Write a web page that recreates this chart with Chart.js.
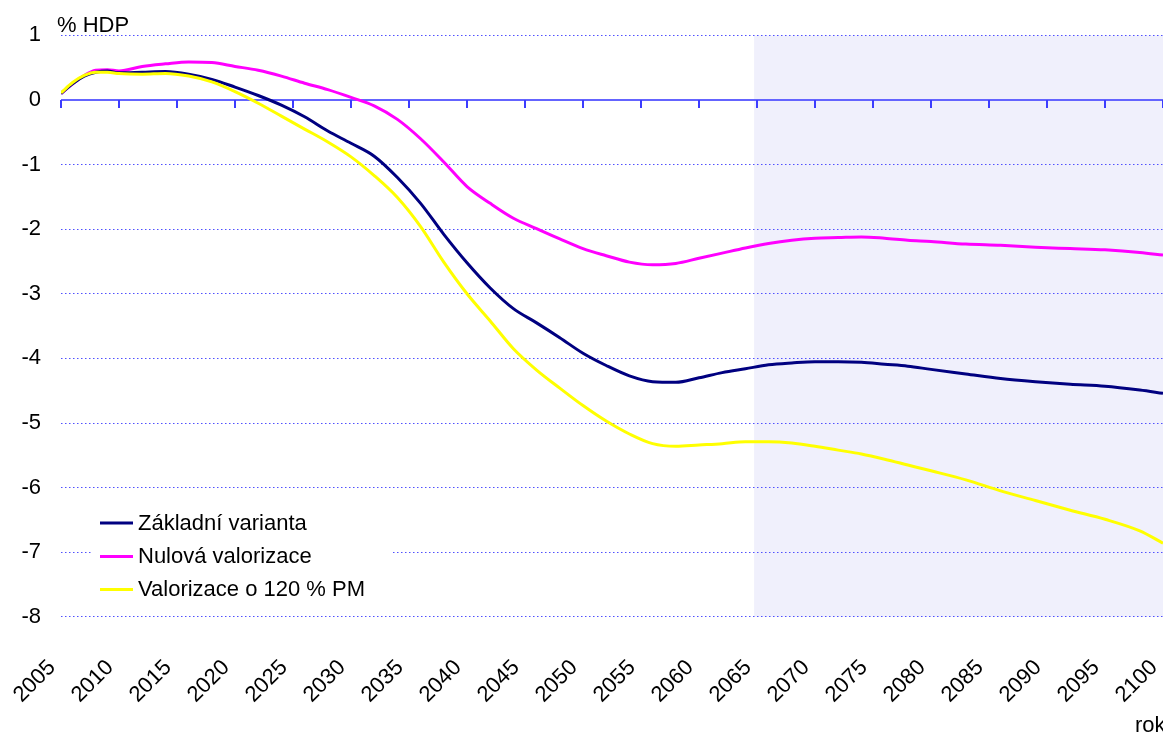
<!DOCTYPE html>
<html>
<head>
<meta charset="utf-8">
<script src="https://cdn.jsdelivr.net/npm/chart.js@4/dist/chart.umd.min.js"></script>
<style>
html,body{margin:0;padding:0;background:#ffffff;overflow:hidden}
#wrap{width:1163px;height:733px;position:relative}
</style>
</head>
<body>
<div id="wrap"><canvas id="c"></canvas></div>
<script>
// ---- data ----
const years = [2005, 2006, 2007, 2008, 2009, 2010,
  2012, 2014, 2016, 2018, 2020, 2022, 2024, 2026, 2028, 2030,
  2032, 2034, 2036, 2038, 2040, 2042, 2044, 2046, 2048, 2050,
  2052, 2054, 2056, 2058, 2060, 2062, 2064, 2066, 2068, 2070,
  2072, 2074, 2076, 2078, 2080,
  2083, 2086, 2089, 2092, 2095, 2098, 2100];

const zakladniVarianta = [0.10, 0.25, 0.37, 0.43, 0.45, 0.42,
  0.43, 0.44, 0.40, 0.32, 0.20, 0.07, -0.08, -0.26, -0.48, -0.67,
  -0.87, -1.20, -1.60, -2.08, -2.52, -2.91, -3.23, -3.45, -3.68, -3.92,
  -4.11, -4.27, -4.36, -4.37, -4.30, -4.22, -4.16, -4.10, -4.07, -4.05,
  -4.05, -4.06, -4.09, -4.12, -4.17,
  -4.24, -4.31, -4.36, -4.40, -4.43, -4.49, -4.54];

const nulovaValorizace = [0.10, 0.25, 0.38, 0.46, 0.47, 0.45,
  0.52, 0.56, 0.59, 0.58, 0.52, 0.46, 0.37, 0.26, 0.16, 0.04,
  -0.09, -0.30, -0.60, -0.96, -1.34, -1.60, -1.83, -1.99, -2.15, -2.30,
  -2.41, -2.51, -2.55, -2.53, -2.45, -2.37, -2.29, -2.22, -2.17, -2.14,
  -2.13, -2.12, -2.14, -2.17, -2.19,
  -2.23, -2.25, -2.28, -2.30, -2.32, -2.36, -2.40];

const valorizace120 = [0.11, 0.27, 0.38, 0.43, 0.43, 0.41,
  0.40, 0.41, 0.37, 0.28, 0.13, -0.05, -0.25, -0.45, -0.65, -0.88,
  -1.17, -1.51, -1.96, -2.51, -3.00, -3.42, -3.85, -4.18, -4.46, -4.73,
  -4.97, -5.17, -5.32, -5.36, -5.34, -5.32, -5.29, -5.29, -5.31, -5.36,
  -5.42, -5.48, -5.56, -5.65, -5.74,
  -5.88, -6.05, -6.20, -6.35, -6.49, -6.67, -6.86];

const seriesNames = ['Základní varianta', 'Nulová valorizace', 'Valorizace o 120 % PM'];
const seriesColors = ['#000080', '#ff00ff', '#ffff00'];
const xMin = 2005, xMax = 2100, xStep = 5;
const yMin = -8, yMax = 1, yStep = 1;
const projectionStart = 2064.75;
const yTitle = '% HDP';
const xTitle = 'rok';

// ---- chart ----
const FONT = "'Liberation Sans', Arial, sans-serif";
const FS = 22;

const toPoints = arr => years.map((x, i) => ({x: x, y: arr[i]}));

const shadePlugin = {
  id: 'shade',
  beforeDraw(chart) {
    const {ctx, chartArea: a, scales: {x}} = chart;
    const x0 = x.getPixelForValue(projectionStart);
    ctx.save();
    ctx.fillStyle = '#f0f0fc';
    ctx.fillRect(x0, a.top, a.right - x0, a.bottom - a.top);
    ctx.restore();
  }
};

const zeroLinePlugin = {
  id: 'zeroLine',
  beforeDatasetsDraw(chart) {
    const {ctx, chartArea: a, scales: {x, y}} = chart;
    const y0 = Math.round(y.getPixelForValue(0));
    ctx.save();
    ctx.strokeStyle = '#6464ff';
    ctx.lineWidth = 2;
    ctx.beginPath();
    ctx.moveTo(a.left, y0);
    ctx.lineTo(a.right, y0);
    ctx.stroke();
    ctx.strokeStyle = '#3c3cff';
    ctx.lineWidth = 2;
    for (let v = xMin; v <= xMax; v += xStep) {
      const px = Math.round(x.getPixelForValue(v));
      ctx.beginPath();
      ctx.moveTo(px, y0);
      ctx.lineTo(px, y0 + 8);
      ctx.stroke();
    }
    ctx.restore();
  }
};

const textPlugin = {
  id: 'texts',
  afterDraw(chart) {
    const {ctx, chartArea: a} = chart;
    ctx.save();
    // legend box inside plot area
    const lx = a.left + 31, ly = a.top + 462, lw = 300, lh = 111;
    ctx.fillStyle = '#ffffff';
    ctx.fillRect(lx, ly, lw, lh);
    ctx.font = FS + 'px ' + FONT;
    ctx.textBaseline = 'middle';
    ctx.textAlign = 'left';
    const rowY = [a.top + 487.5, a.top + 521, a.top + 554];
    chart.data.datasets.forEach((ds, i) => {
      ctx.strokeStyle = ds.borderColor;
      ctx.lineWidth = 3;
      ctx.beginPath();
      ctx.moveTo(lx + 8, rowY[i]);
      ctx.lineTo(lx + 41, rowY[i]);
      ctx.stroke();
      ctx.fillStyle = '#000000';
      ctx.fillText(ds.label, lx + 46, rowY[i] + 1);
    });
    // axis titles
    ctx.textBaseline = 'alphabetic';
    ctx.fillText(yTitle, 57, 32);
    ctx.fillText(xTitle, 1135, 732);
    ctx.restore();
  }
};

new Chart(document.getElementById('c'), {
  type: 'line',
  data: {
    datasets: [
      {label: seriesNames[0], data: toPoints(zakladniVarianta), borderColor: seriesColors[0], order: 1},
      {label: seriesNames[1], data: toPoints(nulovaValorizace), borderColor: seriesColors[1], order: 2},
      {label: seriesNames[2], data: toPoints(valorizace120), borderColor: seriesColors[2], order: 0}
    ].map(d => Object.assign(d, {
      borderWidth: 3, pointRadius: 0, fill: false,
      cubicInterpolationMode: 'monotone', backgroundColor: d.borderColor
    }))
  },
  options: {
    responsive: true,
    maintainAspectRatio: false,
    animation: false,
    devicePixelRatio: 1,
    layout: {padding: {top: 35.4, left: 0, right: 0, bottom: 0}},
    plugins: {legend: {display: false}, tooltip: {enabled: false}},
    scales: {
      x: {
        type: 'linear', min: xMin, max: xMax,
        grid: {display: false, drawTicks: false},
        border: {display: false},
        ticks: {
          stepSize: xStep, autoSkip: false, maxRotation: 45, minRotation: 45,
          padding: 38, labelOffset: -9, color: '#000', font: {family: FONT, size: FS},
          callback: v => String(v)
        },
        afterFit: s => { s.paddingRight = 0; s.paddingLeft = 0; s.height = 116.2; }
      },
      y: {
        min: yMin, max: yMax,
        grid: {
          drawTicks: false, lineWidth: 1,
          color: c => (c.tick && c.tick.value === 0) ? 'rgba(0,0,0,0)' : '#5050ff'
        },
        border: {display: false, dash: [1.5, 2.5]},
        ticks: {
          stepSize: yStep, padding: 20, color: '#000', font: {family: FONT, size: FS},
          callback: v => String(v)
        },
        afterFit: s => { s.width = 61; s.paddingTop = 0; s.paddingBottom = 0; }
      }
    }
  },
  plugins: [shadePlugin, zeroLinePlugin, textPlugin]
});
</script>
</body>
</html>
